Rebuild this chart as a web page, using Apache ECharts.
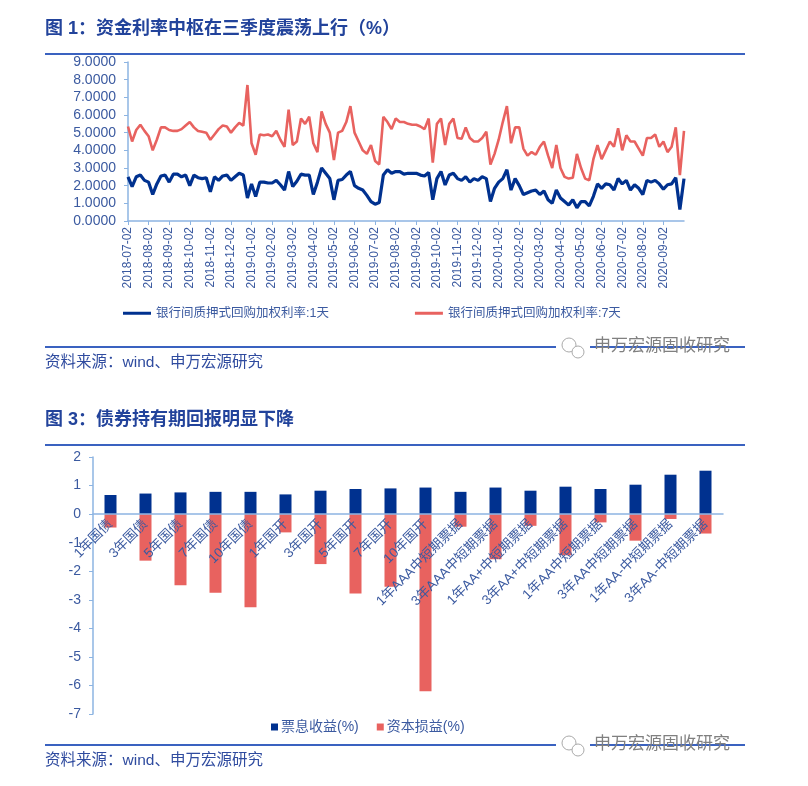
<!DOCTYPE html>
<html>
<head>
<meta charset="utf-8">
<script src="https://cdn.jsdelivr.net/npm/echarts@6/dist/echarts.min.js"></script>
<style>
  html, body { margin: 0; padding: 0; background: #fff; }
  #main { width: 808px; height: 786px; }
</style>
</head>
<body>
<div id="main"></div>
<script>
// 图1 数据：月份 + 每月取样日
var months = ['2018-07','2018-08','2018-09','2018-10','2018-11','2018-12',
  '2019-01','2019-02','2019-03','2019-04','2019-05','2019-06','2019-07','2019-08','2019-09','2019-10','2019-11','2019-12',
  '2020-01','2020-02','2020-03','2020-04','2020-05','2020-06','2020-07','2020-08','2020-09'];
var days = ['02','08','14','20','26'];
var lastDay = '2020-09-30';

// 银行间质押式回购加权利率:1天
var rate1d = [
  2.5, 1.95, 2.5, 2.6, 2.3,
  2.2, 1.5, 2.1, 2.55, 2.6,
  2.2, 2.65, 2.65, 2.5, 2.6,
  2.0, 2.6, 2.45, 2.4, 2.45,
  1.65, 2.5, 2.3, 2.55, 2.6,
  2.3, 2.5, 2.7, 2.6, 1.3,
  2.1, 1.38, 2.2, 2.2, 2.15,
  2.15, 2.3, 2.05, 1.75, 2.8,
  1.95, 2.25, 2.65, 2.6, 2.6,
  1.5, 2.2, 3.0, 2.7, 2.4,
  1.2, 2.3, 2.35, 2.6, 2.8,
  2.0, 1.85, 1.75, 1.45, 1.1,
  0.95, 1.05, 2.6, 2.9, 2.7,
  2.8, 2.8, 2.65, 2.7, 2.7,
  2.7, 2.6, 2.55, 2.75, 1.2,
  2.4, 2.8, 2.04, 2.6, 2.7,
  2.4, 2.3, 2.5, 2.2, 2.4,
  2.3, 2.5, 2.4, 1.1, 1.85,
  2.2, 2.4, 2.9, 1.75, 2.4,
  2.0, 1.5, 1.6, 1.7, 1.75,
  1.5, 1.7, 1.2, 1.0, 1.75,
  1.3, 1.1, 0.9, 1.2, 0.75,
  1.1, 1.1, 0.85, 1.4, 2.1,
  1.85, 2.1, 2.05, 1.75, 2.4,
  2.1, 2.3, 1.75, 2.05, 1.85,
  1.5, 2.3, 2.2, 2.3, 2.1,
  1.8, 2.05, 2.1, 2.45, 0.65, 2.4
];
// 银行间质押式回购加权利率:7天
var rate7d = [
  5.35, 4.5, 5.15, 5.45, 5.1,
  4.8, 4.0, 4.6, 5.3, 5.3,
  5.15, 5.1, 5.1, 5.2, 5.4,
  5.6, 5.3, 5.1, 5.05, 5.0,
  4.6, 4.9, 5.2, 5.4, 5.35,
  5.0, 5.3, 5.55, 5.4, 7.7,
  4.4, 3.75, 4.9, 4.85, 4.9,
  4.8, 5.1, 4.6, 4.2, 6.3,
  4.3, 4.5, 5.8, 5.5, 5.9,
  4.4, 3.9, 6.2, 5.5, 5.0,
  3.45, 5.0, 5.1, 5.6, 6.5,
  5.0, 4.5, 4.0, 3.8, 4.3,
  3.4, 3.2, 5.9, 5.6, 5.2,
  5.8, 5.6, 5.6, 5.5, 5.45,
  5.45, 5.35, 5.2, 5.8, 3.3,
  5.5, 5.8, 4.3, 5.5, 5.8,
  4.7, 4.65, 5.3, 4.7, 4.5,
  4.5, 4.7, 5.05, 3.2, 3.8,
  4.6, 5.6, 6.5, 4.4, 5.3,
  5.3, 4.1, 3.7, 3.9, 3.75,
  4.2, 4.5, 3.7, 3.0, 4.3,
  3.0, 2.5, 2.4, 2.45, 3.8,
  3.0, 2.4, 2.3, 3.5, 4.3,
  3.5, 4.0, 4.5, 4.2, 5.25,
  4.0, 4.85, 4.5, 4.5, 4.1,
  3.7, 4.7, 4.7, 4.9, 4.2,
  4.5, 3.9, 4.2, 5.3, 2.6, 5.1
];

// 图3 数据
var bonds = ['1年国债','3年国债','5年国债','7年国债','10年国债','1年国开','3年国开','5年国开','7年国开','10年国开',
  '1年AAA中短期票据','3年AAA中短期票据','1年AA+中短期票据','3年AA+中短期票据','1年AA中短期票据','3年AA中短期票据',
  '1年AA-中短期票据','3年AA-中短期票据'];
var couponIncome = [0.67, 0.72, 0.76, 0.78, 0.78, 0.69, 0.82, 0.88, 0.9, 0.93, 0.78, 0.93, 0.82, 0.96, 0.88, 1.03, 1.38, 1.52];
var capitalGain = [-0.47, -1.63, -2.49, -2.75, -3.26, -0.64, -1.75, -2.78, -2.54, -6.2, -0.44, -1.58, -0.41, -1.44, -0.29, -0.93, -0.17, -0.68];

var dates = [];
months.forEach(function (m) {
  days.forEach(function (d) { dates.push(m + '-' + d); });
});
dates.push(lastDay);

var BLUE = '#00318f';
var RED = '#e8625f';
var AXIS = '#8db4e2';
var TXT = '#3b5aa0';
var FONT = '"Liberation Sans", "Noto Sans CJK SC", sans-serif';

function header(y, text) {
  return [
    { type: 'text', left: 45, top: y - 11,
      style: { text: text, fill: '#22439b', font: 'bold 18px ' + FONT } },
    { type: 'line', shape: { x1: 45, y1: y + 23, x2: 745, y2: y + 23 },
      style: { stroke: '#3a62c0', lineWidth: 2 } }
  ];
}
function footer(y) {
  return [
    { type: 'line', shape: { x1: 45, y1: y, x2: 745, y2: y },
      style: { stroke: '#3a62c0', lineWidth: 2 } },
    { type: 'text', left: 45, top: y + 8,
      style: { text: '资料来源：wind、申万宏源研究', fill: '#2f4b9f', font: '15.5px ' + FONT } },
    { type: 'rect', shape: { x: 556, y: y - 12, width: 34, height: 24 },
      style: { fill: '#fff' } },
    { type: 'circle', shape: { cx: 569, cy: y - 2, r: 7 },
      style: { fill: 'none', stroke: '#aaa', lineWidth: 1 } },
    { type: 'circle', shape: { cx: 578, cy: y + 5, r: 6 },
      style: { fill: '#fff', stroke: '#aaa', lineWidth: 1 } },
    { type: 'text', left: 594, top: y - 9,
      style: { text: '申万宏源固收研究', fill: '#808080', font: '17px ' + FONT } }
  ];
}

function isMonthTick(i, v) { return v.slice(-2) === '02'; }

var chart = echarts.init(document.getElementById('main'));
var option = {
  animation: false,
  textStyle: { fontFamily: FONT },
  graphic: [].concat(header(31, '图 1：资金利率中枢在三季度震荡上行（%）'), footer(347),
                     header(422, '图 3：债券持有期回报明显下降'), footer(745)),
  legend: [
    { left: 118, top: 302, itemGap: 86, itemWidth: 28, itemHeight: 3, icon: 'rect',
      textStyle: { color: TXT, fontSize: 12.5, fontFamily: FONT },
      data: ['银行间质押式回购加权利率:1天', '银行间质押式回购加权利率:7天'] },
    { left: 266, top: 715, itemGap: 18, itemWidth: 7, itemHeight: 7, icon: 'rect',
      textStyle: { color: TXT, fontSize: 14, fontFamily: FONT, padding: [0, 0, 0, -2] },
      data: ['票息收益(%)', '资本损益(%)'] }
  ],
  grid: [
    { left: 128, top: 62, width: 556, height: 159 },
    { left: 93, top: 457, width: 630, height: 257 }
  ],
  xAxis: [
    { type: 'category', gridIndex: 0, data: dates, boundaryGap: false,
      axisLine: { lineStyle: { color: AXIS, width: 1.5 } },
      axisTick: { interval: isMonthTick, length: 4, lineStyle: { color: AXIS } },
      axisLabel: { interval: isMonthTick, rotate: 90, color: TXT, fontSize: 12, margin: 6 } },
    { type: 'category', gridIndex: 1, data: bonds, z: 5,
      offset: -200,
      axisLine: { onZero: false, lineStyle: { color: AXIS, width: 1.5 } },
      axisTick: { length: 4, lineStyle: { color: AXIS } },
      axisLabel: { interval: 0, rotate: 45, color: TXT, fontSize: 13.5, margin: 8 } }
  ],
  yAxis: [
    { type: 'value', gridIndex: 0, min: 0, max: 9, interval: 1,
      axisLine: { show: true, lineStyle: { color: AXIS, width: 1.5 } },
      axisTick: { show: true, length: 4, lineStyle: { color: AXIS } },
      splitLine: { show: false },
      axisLabel: { color: TXT, fontSize: 14, margin: 12,
        formatter: function (v) { return v.toFixed(4); } } },
    { type: 'value', gridIndex: 1, min: -7, max: 2, interval: 1,
      axisLine: { show: true, lineStyle: { color: AXIS, width: 1.5 } },
      axisTick: { show: true, length: 4, lineStyle: { color: AXIS } },
      splitLine: { show: false },
      axisLabel: { color: TXT, fontSize: 14, margin: 12 } }
  ],
  series: [
    { name: '银行间质押式回购加权利率:1天', type: 'line', xAxisIndex: 0, yAxisIndex: 0,
      data: rate1d, symbol: 'none', color: BLUE, lineStyle: { width: 3.2, color: BLUE } },
    { name: '银行间质押式回购加权利率:7天', type: 'line', xAxisIndex: 0, yAxisIndex: 0,
      data: rate7d, symbol: 'none', color: RED, lineStyle: { width: 2.6, color: RED } },
    { name: '票息收益(%)', type: 'bar', xAxisIndex: 1, yAxisIndex: 1,
      data: couponIncome, barWidth: 12, barGap: '-100%', color: BLUE },
    { name: '资本损益(%)', type: 'bar', xAxisIndex: 1, yAxisIndex: 1,
      data: capitalGain, barWidth: 12, barGap: '-100%', color: RED }
  ]
};
chart.setOption(option);
</script>
</body>
</html>
